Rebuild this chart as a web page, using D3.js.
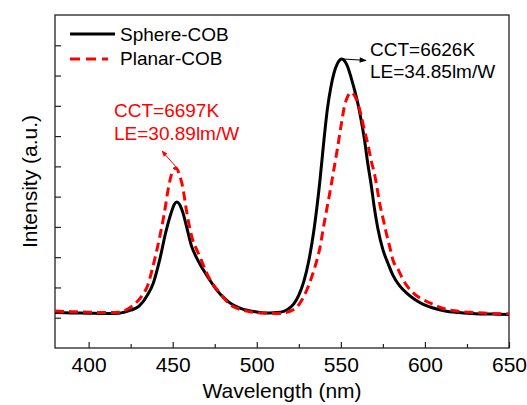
<!DOCTYPE html>
<html>
<head>
<meta charset="utf-8">
<script src="https://cdn.jsdelivr.net/npm/d3@7"></script>
<style>
  html, body { margin: 0; padding: 0; background: #fff; }
  svg { display: block; }
  text { font-family: "Liberation Sans", Arial, sans-serif; }
</style>
</head>
<body>
<svg id="chart" width="527" height="405"></svg>
<script>
// ---- data ----
const sphereWl = [380,390,400,410,418,425,430,435,438.5,442,446,449,451,452.5,454,456,458.5,461,464,468,472,476,480,484,490,495,500,505,508,512,516,519,522,525,528,531,534,537.5,540,542,544,546,548,550.5,552,554,556,558,560,562,564,566,568,570,572,575,578,581,585,589,594,599,605,612,620,630,640,650];
const sphereVal = [0.17,0.16,0.15,0.14,0.15,0.25,0.38,0.75,1.15,1.85,2.85,3.45,3.75,3.82,3.75,3.48,2.95,2.4,2.0,1.6,1.25,0.93,0.68,0.49,0.32,0.24,0.19,0.16,0.16,0.17,0.21,0.3,0.46,0.75,1.2,1.9,2.9,4.5,5.9,6.9,7.6,8.1,8.4,8.55,8.5,8.3,7.95,7.55,7.1,6.55,5.9,5.1,4.4,3.6,2.95,2.25,1.8,1.4,1.05,0.82,0.6,0.44,0.32,0.22,0.17,0.13,0.12,0.11];
const planarWl = [380,390,400,410,418,423,428,432,435,438.5,442,445,447.5,450,452,454,456,458,460,462,464,467,470,474,478,484,490,496,502,508,512,516,520,524,527,530,533,535.5,537.5,540,542,544,546,548,550,552,554,556,558,560,562,564,566,568,570,571.5,573,575,577,579,581,584,587,590,593,598,603,610,619,630,639,650];
const planarVal = [0.22,0.2,0.18,0.17,0.18,0.28,0.48,0.75,1.05,1.75,2.6,3.45,4.3,4.85,4.95,4.72,4.3,3.6,3.0,2.55,2.28,1.9,1.5,1.1,0.82,0.44,0.28,0.2,0.16,0.15,0.14,0.16,0.22,0.36,0.6,0.95,1.4,1.85,2.3,3.1,3.7,4.3,4.95,5.6,6.3,6.95,7.3,7.44,7.35,7.1,6.7,6.2,5.75,5.2,4.75,4.3,3.8,3.3,2.8,2.36,1.9,1.6,1.26,1.0,0.82,0.62,0.49,0.32,0.22,0.17,0.14,0.13];
const seriesNames = ["Sphere-COB", "Planar-COB"];
const xTicks = [400,450,500,550,600,650];
const xMinorTicks = [425,475,525,575,625];
const yTicks = [0,1,2,3,4,5,6,7,8,9];
const annoSphere = ["CCT=6626K", "LE=34.85lm/W"];
const annoPlanar = ["CCT=6697K", "LE=30.89lm/W"];

// ---- layout ----
const L = 55, R = 509, T = 15, B = 348;
const svg = d3.select("#chart");
const x = d3.scaleLinear().domain([380, 650]).range([L, R]);
const y = d3.scaleLinear().domain([-1, 10]).range([B, T]);

const defs = svg.append("defs");
defs.append("marker").attr("id","arrK").attr("viewBox","0 0 10 10").attr("refX",9).attr("refY",5)
  .attr("markerWidth",9).attr("markerHeight",7).attr("markerUnits","userSpaceOnUse").attr("orient","auto")
  .append("path").attr("d","M0,1 L10,5 L0,9 Z").attr("fill","#000");
defs.append("marker").attr("id","arrR").attr("viewBox","0 0 10 10").attr("refX",9).attr("refY",5)
  .attr("markerWidth",8).attr("markerHeight",6).attr("markerUnits","userSpaceOnUse").attr("orient","auto")
  .append("path").attr("d","M0,1 L10,5 L0,9 Z").attr("fill","#f00");

// axes
const xAxis = svg.append("g").attr("transform", `translate(0,${B})`)
  .call(d3.axisBottom(x).tickValues(xTicks).tickSize(-6).tickPadding(9).tickFormat(d3.format("d")));
xAxis.select(".domain").remove();
xAxis.selectAll("text").attr("font-size", 21).attr("fill", "#000").attr("font-family", "Liberation Sans, Arial, sans-serif");
xAxis.selectAll("line").attr("stroke", "#222").attr("stroke-width", 1.2);
const xMinor = svg.append("g").attr("transform", `translate(0,${B})`)
  .call(d3.axisBottom(x).tickValues(xMinorTicks).tickSize(-4).tickFormat(""));
xMinor.select(".domain").remove();
xMinor.selectAll("line").attr("stroke", "#222").attr("stroke-width", 1.2);

const yAxis = svg.append("g").attr("transform", `translate(${L},0)`)
  .call(d3.axisLeft(y).tickValues(yTicks).tickSize(-6).tickFormat(""));
yAxis.select(".domain").remove();
yAxis.selectAll("line").attr("stroke", "#222").attr("stroke-width", 1.2);

// frame
svg.append("rect").attr("x", L).attr("y", T).attr("width", R - L).attr("height", B - T)
  .attr("fill", "none").attr("stroke", "#222").attr("stroke-width", 1.3);

// curves
const line = d3.line().x(d => x(d[0])).y(d => y(d[1])).curve(d3.curveMonotoneX);
const sphere = sphereWl.map((w, i) => [w, sphereVal[i]]);
const planar = planarWl.map((w, i) => [w, planarVal[i]]);
svg.append("path").datum(sphere).attr("d", line).attr("fill", "none")
  .attr("stroke", "#000").attr("stroke-width", 3);
svg.append("path").datum(planar).attr("d", line).attr("fill", "none")
  .attr("stroke", "#ff0000").attr("stroke-width", 3).attr("stroke-dasharray", "9,5");

// axis titles
svg.append("text").attr("x", (L + R) / 2).attr("y", 398).attr("text-anchor", "middle")
  .attr("font-size", 21).text("Wavelength (nm)");
svg.append("text").attr("transform", `translate(37,${(T + B) / 2}) rotate(-90)`).attr("text-anchor", "middle")
  .attr("font-size", 21).text("Intensity (a.u.)");

// legend
svg.append("line").attr("x1", 70).attr("x2", 115).attr("y1", 34).attr("y2", 34)
  .attr("stroke", "#000").attr("stroke-width", 3);
svg.append("text").attr("x", 120).attr("y", 41).attr("font-size", 19).text(seriesNames[0]);
svg.append("line").attr("x1", 70).attr("x2", 108).attr("y1", 59).attr("y2", 59)
  .attr("stroke", "#f00").attr("stroke-width", 3).attr("stroke-dasharray", "10,6");
svg.append("text").attr("x", 120).attr("y", 65).attr("font-size", 19).text(seriesNames[1]);

// annotations
svg.append("line").attr("x1", x(550.5)).attr("y1", y(8.55)).attr("x2", 366).attr("y2", y(8.5))
  .attr("stroke", "#000").attr("stroke-width", 1).attr("marker-end", "url(#arrK)");
svg.append("text").attr("x", 370).attr("y", 56).attr("font-size", 19).text(annoSphere[0]);
svg.append("text").attr("x", 370).attr("y", 78).attr("font-size", 19).text(annoSphere[1]);

svg.append("line").attr("x1", x(452.5)).attr("y1", y(4.95)).attr("x2", 162).attr("y2", 151)
  .attr("stroke", "#f00").attr("stroke-width", 1).attr("marker-end", "url(#arrR)");
svg.append("text").attr("x", 114).attr("y", 116.5).attr("font-size", 19).attr("fill", "#f00").text(annoPlanar[0]);
svg.append("text").attr("x", 114).attr("y", 140).attr("font-size", 19).attr("fill", "#f00").text(annoPlanar[1]);
</script>
</body>
</html>
